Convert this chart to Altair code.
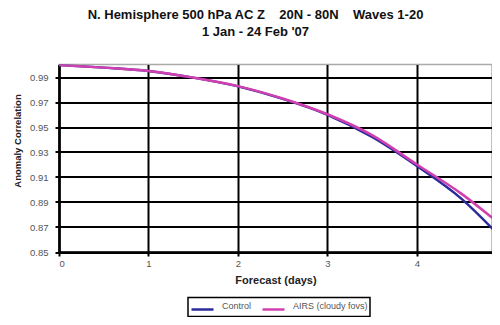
import altair as alt
import pandas as pd

days = [0, 0.5, 1, 1.5, 2, 2.5, 3, 3.5, 4, 4.5, 5]
control = [0.9996, 0.9975, 0.9948, 0.9895, 0.9825, 0.9725, 0.9598, 0.9420, 0.9188, 0.8925, 0.8570]
airs = [0.9996, 0.9975, 0.9948, 0.9895, 0.9827, 0.9728, 0.9602, 0.9435, 0.9200, 0.8965, 0.8680]
series_names = ["Control", "AIRS (cloudy fovs)"]
series_colors = ["#2b2b9c", "#d040b0"]
y_ticks = [0.85, 0.87, 0.89, 0.91, 0.93, 0.95, 0.97, 0.99]
x_ticks = [0, 1, 2, 3, 4]
title_lines = ["N. Hemisphere 500 hPa AC Z\u00a0\u00a0\u00a0\u00a020N - 80N\u00a0\u00a0\u00a0\u00a0Waves 1-20",
               "1 Jan - 24 Feb '07"]

rows = []
for d, c, a in zip(days, control, airs):
    rows.append({"day": d, "value": c, "series": series_names[0]})
    rows.append({"day": d, "value": a, "series": series_names[1]})
df = pd.DataFrame(rows)

FONT = "Liberation Sans"

chart = alt.Chart(df).mark_line(clip=True, strokeWidth=2.5, interpolate="monotone").encode(
    x=alt.X("day:Q", scale=alt.Scale(domain=[0, 4.84], nice=False),
            axis=alt.Axis(values=x_ticks, title="Forecast (days)", format="d",
                          grid=True, gridColor="black", gridWidth=2,
                          domainColor="black", domainWidth=2.5,
                          tickColor="black", tickWidth=2, tickSize=4,
                          labelPadding=2, labelFontSize=9.5, labelColor="#555",
                          titleFontSize=11, titleFontWeight="bold", titlePadding=7,
                          titleColor="#222")),
    y=alt.Y("value:Q", scale=alt.Scale(domain=[0.85, 1.0], nice=False, zero=False),
            axis=alt.Axis(values=y_ticks, title="Anomaly Correlation", format=".2f",
                          grid=True, gridColor="black", gridWidth=2,
                          domainColor="black", domainWidth=2.5,
                          tickColor="black", tickWidth=2, tickSize=4,
                          labelPadding=7, labelFontSize=9.5, labelColor="#555",
                          titleFontSize=9.5, titleFontWeight="bold",
                          titleX=-42, titleY=76, titleAngle=270,
                          titleAlign="center", titleBaseline="middle",
                          titleColor="#222")),
    color=alt.Color("series:N",
                    scale=alt.Scale(domain=series_names, range=series_colors),
                    sort=series_names,
                    legend=alt.Legend(title=None, orient="none", legendX=129, legendY=233,
                                      direction="horizontal",
                                      symbolType="M-2.2,0.7L2.2,0.7",
                                      symbolStrokeWidth=2.5, symbolSize=100,
                                      symbolOffset=6,
                                      labelFontSize=9, labelColor="#555",
                                      strokeColor="black", padding=2,
                                      columnPadding=5, labelOffset=13)),
).properties(
    width=433,
    height=187.5,
    title=alt.TitleParams(text=title_lines,
                          fontSize=13, fontWeight="bold", lineHeight=17,
                          dx=-20, offset=26, anchor="middle", color="#111"),
    autosize=alt.AutoSizeParams(type="none"),
    padding={"left": 51, "top": 56.5, "right": 0, "bottom": 65},
).configure(font=FONT).configure_view(stroke="#aaaaaa", strokeWidth=1.5
).configure_legend(strokeWidth=1.5)

chart.save("out.html", embed_options={"renderer": "svg", "actions": False})
